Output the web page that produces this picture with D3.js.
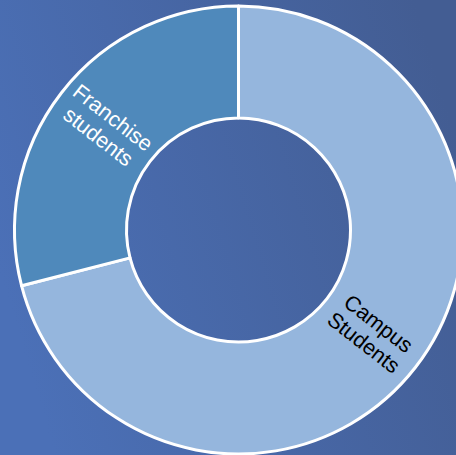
<!DOCTYPE html>
<html>
<head>
<meta charset="utf-8">
<script src="https://cdn.jsdelivr.net/npm/d3@7"></script>
<style>
  html, body { margin: 0; padding: 0; overflow: hidden; }
  svg { display: block; }
</style>
</head>
<body>
<script>
// Student population split
const categories = ["Campus Students", "Franchise students"];
const values = [71, 29];
const labelLines = [["Campus", "Students"], ["Franchise", "students"]];
const fills = ["#95b6dd", "#4f89bb"];
const textColors = ["#000000", "#ffffff"];

const width = 456, height = 455;
const cx = 238.5, cy = 230;
const outerR = 224, innerR = 112;

const svg = d3.select("body").append("svg")
  .attr("width", width).attr("height", height);

const defs = svg.append("defs");
const bg = defs.append("linearGradient")
  .attr("id", "bg").attr("x1", "0%").attr("y1", "60%").attr("x2", "100%").attr("y2", "30%");
bg.append("stop").attr("offset", "0%").attr("stop-color", "#4b70b7");
bg.append("stop").attr("offset", "100%").attr("stop-color", "#435d93");

svg.append("rect").attr("width", width).attr("height", height).attr("fill", "url(#bg)");

const pie = d3.pie().sort(null).value(d => d);
const arcs = pie(values);
const arc = d3.arc().innerRadius(innerR).outerRadius(outerR);
const labelArc = d3.arc().innerRadius((innerR + outerR) / 2).outerRadius((innerR + outerR) / 2);

const g = svg.append("g").attr("transform", `translate(${cx},${cy})`);

g.selectAll("path.slice").data(arcs).join("path")
  .attr("class", "slice")
  .attr("d", arc)
  .attr("fill", (d, i) => fills[i])
  .attr("stroke", "#ffffff")
  .attr("stroke-width", 3)
  .attr("stroke-linejoin", "round");

const fontSize = 21.5;
const lineH = fontSize * 1.12;

const labels = g.selectAll("g.label").data(arcs).join("g")
  .attr("class", "label")
  .attr("transform", d => {
    const [x, y] = labelArc.centroid(d);
    const mid = (d.startAngle + d.endAngle) / 2 * 180 / Math.PI;
    let rot = mid - 90;
    while (rot > 90) rot -= 180;
    while (rot < -90) rot += 180;
    return `translate(${x},${y}) rotate(${rot})`;
  });

labels.each(function(d, i) {
  const lines = labelLines[i];
  const t = d3.select(this).append("text")
    .attr("text-anchor", "middle")
    .attr("font-family", "Liberation Sans, Arial, sans-serif")
    .attr("font-size", fontSize)
    .attr("fill", textColors[i]);
  lines.forEach((ln, k) => {
    t.append("tspan")
      .attr("x", 0)
      .attr("y", (k - (lines.length - 1) / 2) * lineH + fontSize * 0.35)
      .text(ln);
  });
});
</script>
</body>
</html>
